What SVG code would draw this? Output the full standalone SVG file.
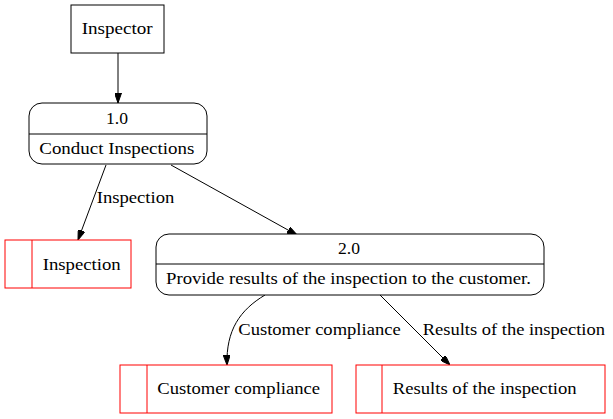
<svg xmlns="http://www.w3.org/2000/svg" width="613" height="419" viewBox="0 0 613 419">
<style>
.t{font-family:'Liberation Serif','DejaVu Serif',serif;font-size:16px;fill:#000}
.c{text-anchor:middle}
.n{fill:#fff;stroke:#000;stroke-width:1}
.s{fill:#fff;stroke:#f00;stroke-width:1}
.e{fill:none;stroke:#000;stroke-width:1}
</style>
<defs>
<marker id="ah" markerWidth="10" markerHeight="7" refX="10" refY="3.5" orient="auto" markerUnits="userSpaceOnUse">
<path d="M0,0 L10,3.5 L0,7 Z" fill="#000" stroke="#000"/>
</marker>
</defs>
<rect width="613" height="419" fill="#fff"/>
<g id="connectors">
<path class="e" d="M118,53 L118,103" marker-end="url(#ah)"/>
<path class="e" d="M106,165 L78,240" marker-end="url(#ah)"/>
<path class="e" d="M171,165 L297,235" marker-end="url(#ah)"/>
<path class="e" d="M265,295 C240,310 226,330 227,365" marker-end="url(#ah)"/>
<path class="e" d="M380,295 L450,365" marker-end="url(#ah)"/>
<g class="t">
<text x="96.7" y="203" textLength="77.6" lengthAdjust="spacingAndGlyphs">Inspection</text>
<text x="238.3" y="335" textLength="162.4" lengthAdjust="spacingAndGlyphs">Customer compliance</text>
<text x="422.7" y="335" textLength="182.3" lengthAdjust="spacingAndGlyphs">Results of the inspection</text>
</g>
</g>
<g id="inspector" class="t">
<rect class="n" x="71" y="5" width="93" height="48"/>
<text class="c" x="117.2" y="33.5" textLength="71" lengthAdjust="spacingAndGlyphs">Inspector</text>
</g>
<g id="p1" class="t">
<rect class="n" x="29" y="103" width="178" height="61" rx="13"/>
<line class="e" x1="29" y1="134" x2="207" y2="134"/>
<text class="c" x="117" y="124" textLength="22" lengthAdjust="spacingAndGlyphs">1.0</text>
<text class="c" x="116.8" y="153.5" textLength="155" lengthAdjust="spacingAndGlyphs">Conduct Inspections</text>
</g>
<g id="p2" class="t">
<rect class="n" x="156" y="234" width="388" height="61" rx="13"/>
<line class="e" x1="156" y1="264" x2="544" y2="264"/>
<text class="c" x="349" y="253.5" textLength="22" lengthAdjust="spacingAndGlyphs">2.0</text>
<text class="c" x="348.5" y="284.3" textLength="365" lengthAdjust="spacingAndGlyphs">Provide results of the inspection to the customer.</text>
</g>
<g id="s-inspection" class="t">
<rect class="s" x="5" y="240" width="126" height="48"/>
<line class="s" x1="32" y1="240" x2="32" y2="288"/>
<text class="c" x="81.7" y="270" textLength="78" lengthAdjust="spacingAndGlyphs">Inspection</text>
</g>
<g id="s-compliance" class="t">
<rect class="s" x="120" y="365" width="212" height="48"/>
<line class="s" x1="147" y1="365" x2="147" y2="413"/>
<text class="c" x="238.7" y="393.5" textLength="162.7" lengthAdjust="spacingAndGlyphs">Customer compliance</text>
</g>
<g id="s-results" class="t">
<rect class="s" x="356" y="365" width="249" height="48"/>
<line class="s" x1="382" y1="365" x2="382" y2="413"/>
<text class="c" x="484.7" y="393.5" textLength="184" lengthAdjust="spacingAndGlyphs">Results of the inspection</text>
</g>
</svg>
